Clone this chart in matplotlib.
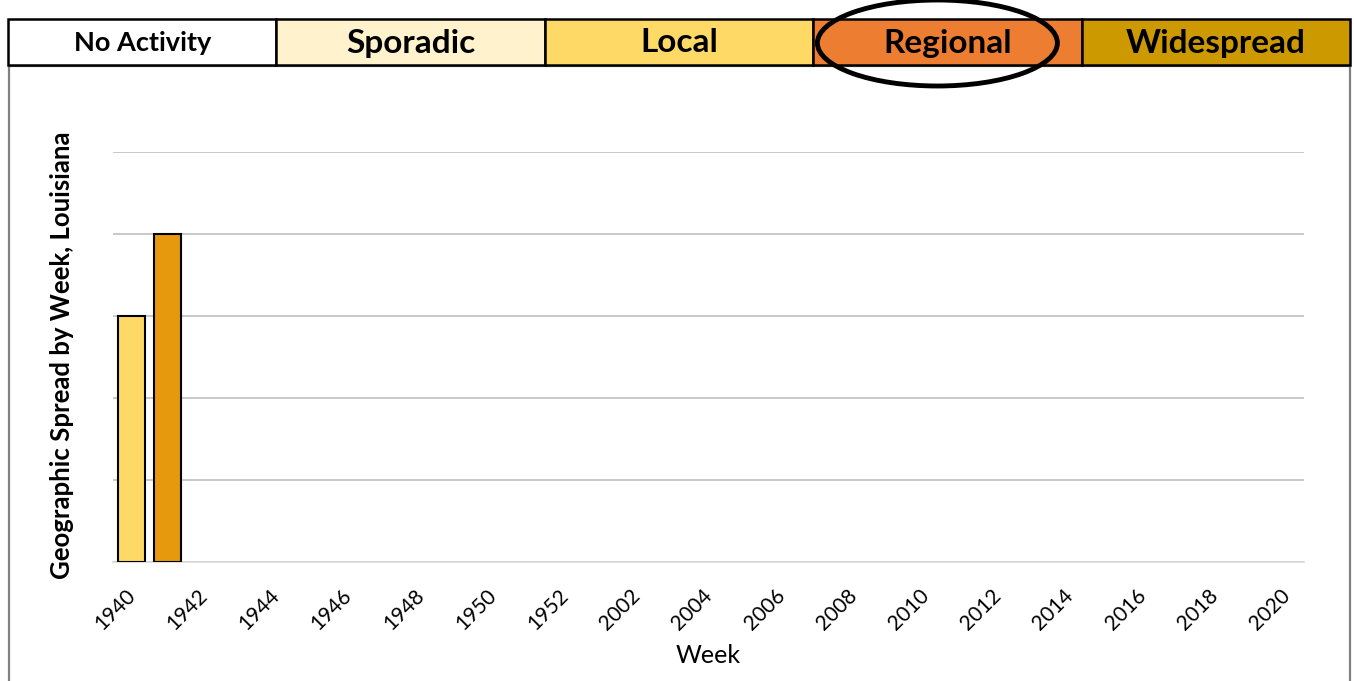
import matplotlib
matplotlib.use("Agg")
import matplotlib.pyplot as plt
from matplotlib.patches import Rectangle, Ellipse
import matplotlib.transforms as mtrans

plt.rcParams['font.family'] = ['Lato', 'DejaVu Sans']

# activity levels shown in the legend strip
levels = ["No Activity", "Sporadic", "Local", "Regional", "Widespread"]
level_colors = ["#FFFFFF", "#FFF2CC", "#FFD966", "#ED7D31", "#CC9900"]

# weeks (season 2019-2020) and reported level
weeks = [str(1900 + w) for w in range(40, 53)] + [str(2000 + w) for w in range(1, 21)]
spread = [3, 4] + [0] * (len(weeks) - 2)
bar_colors = ["#FFD966", "#E6990C"] + ["#FFFFFF"] * (len(weeks) - 2)
circled = "Regional"

W, H = 1354, 681
fig = plt.figure(figsize=(W / 100, H / 100), dpi=100)

# overlay in pixel coords for the legend strip and outer frame
ov = fig.add_axes([0, 0, 1, 1])
ov.set_xlim(0, W)
ov.set_ylim(H, 0)
ov.axis("off")

# chart frame
ov.add_patch(Rectangle((9, 66), 1341, 640, fill=False, edgecolor="#808080", lw=1.6, zorder=1))

x0, x1 = 8, 1350
bw = (x1 - x0) / len(levels)
for i, (lab, c) in enumerate(zip(levels, level_colors)):
    ov.add_patch(Rectangle((x0 + i * bw, 19), bw, 46, facecolor=c, edgecolor="black", lw=1.8, zorder=2))
    fs = 19.5 if lab == "No Activity" else 24
    ov.text(x0 + (i + 0.5) * bw, 43, lab, ha="center", va="center",
            fontsize=fs, fontweight="bold", zorder=3)
    if lab == circled:
        ov.add_patch(Ellipse((x0 + (i + 0.5) * bw - 10, 43), 240, 86, fill=False,
                             edgecolor="black", lw=3.5, zorder=4))

ax = fig.add_axes([113 / W, 1 - 562 / H, (1304 - 113) / W, (562 - 152) / H])
x = list(range(len(weeks)))
vals = [v if v > 0 else 0 for v in spread]
ax.bar(x, vals, width=0.75, color=bar_colors, edgecolor=["black" if v > 0 else "none" for v in vals],
       lw=1.5, zorder=3)
ax.set_xlim(-0.5, len(weeks) - 0.5)
ax.set_ylim(0, 5)
ax.set_yticks(range(0, 6))
ax.set_yticklabels([])
ax.yaxis.grid(True, color="#BFBFBF", lw=1.2, zorder=0)
ax.tick_params(length=0)
for s in ["top", "right", "left"]:
    ax.spines[s].set_visible(False)
ax.spines["bottom"].set_color("#D9D9D9")
ax.spines["bottom"].set_linewidth(1.2)
ax.set_facecolor("none")

ax.set_xticks(x[::2])
ax.set_xticklabels(weeks[::2], rotation=45, ha="right", va="center",
                   rotation_mode="anchor", fontsize=15)
ax.tick_params(axis="x", pad=22)
shift = mtrans.ScaledTranslation(1 / 100, 0, fig.dpi_scale_trans)
for t in ax.get_xticklabels():
    t.set_transform(t.get_transform() + shift)

ax.set_xlabel("Week", fontsize=18, labelpad=7)
fig.text(62 / W, 1 - 355 / H, "Geographic Spread by Week, Louisiana", rotation=90,
         ha="center", va="center", fontsize=18.5, fontweight="bold")

fig.savefig("out.png", dpi=100)
